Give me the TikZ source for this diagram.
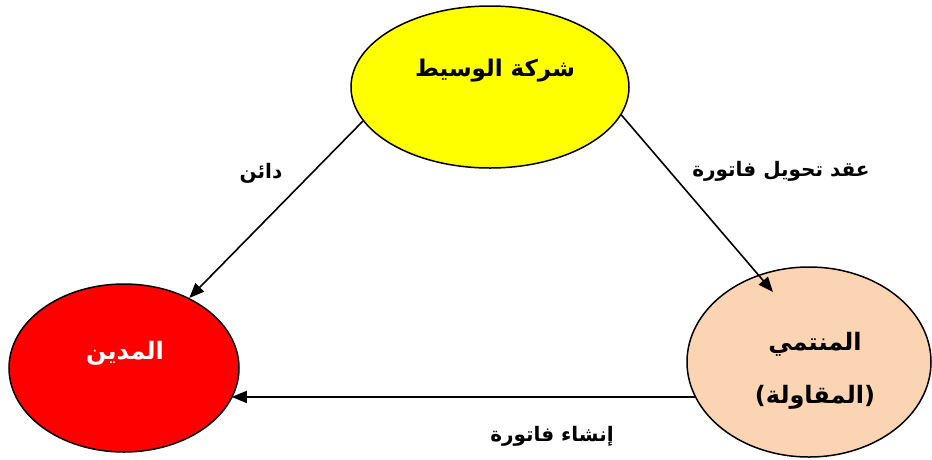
\documentclass[tikz,border=0pt]{standalone}
\usepackage{fontspec}
\usetikzlibrary{shapes.geometric,arrows.meta,calc}
\newfontfamily\arabicfont[Script=Arabic]{DejaVu Sans}
\TeXXeTstate=1
\definecolor{peach}{HTML}{FBD4B4}
\definecolor{yel}{HTML}{FFFF00}
\definecolor{rd}{HTML}{FF0000}
\begin{document}
\begin{tikzpicture}[x=1pt,y=-1pt]
\useasboundingbox (0,0) rectangle (932,459);
\tikzset{
  blob/.style={ellipse, draw=black, line width=1.5pt, inner sep=0pt},
  txt/.style={inner sep=0pt, font=\arabicfont\bfseries},
  arr/.style={-{Triangle[length=15pt,width=12pt]}, line width=1.6pt}
}
\node[blob, fill=yel, minimum width=278pt, minimum height=162pt] (wasit) at (490,87) {};
\node[blob, fill=rd, minimum width=230pt, minimum height=168pt] (madin) at (124,368) {};
\node[blob, fill=peach, minimum width=244pt, minimum height=190pt] (muntami) at (809,362) {};

\node[txt, font=\arabicfont\bfseries\fontsize{23}{27}\selectfont] (t1) at (495,71) {\beginR شركة الوسيط\endR};
\node[txt, text=white, font=\arabicfont\bfseries\fontsize{24}{28}\selectfont] (t2) at (125,353) {\beginR المدين\endR};
\node[txt, font=\arabicfont\bfseries\fontsize{24}{28}\selectfont] (t3) at (815,344) {\beginR المنتمي\endR};
\node[txt, font=\arabicfont\bfseries\fontsize{24}{28}\selectfont] (t4) at (815,397) {\beginR (المقاولة)\endR};

\node[txt, font=\arabicfont\bfseries\fontsize{20}{24}\selectfont] (l1) at (261,173) {\beginR دائن\endR};
\node[txt, font=\arabicfont\bfseries\fontsize{20}{24}\selectfont] (l2) at (781,171) {\beginR عقد تحويل فاتورة\endR};
\node[txt, font=\arabicfont\bfseries\fontsize{20}{24}\selectfont] (l3) at (552,436) {\beginR إنشاء فاتورة\endR};

\draw[arr] (wasit.195.8) -- (madin.47.2);
\draw[arr] (wasit.348.9) -- ($(muntami.center)+(-36,-70)$);
\draw[arr] (muntami.197.7) -- (madin.344.1 |- muntami.197.7);
\end{tikzpicture}
\end{document}
